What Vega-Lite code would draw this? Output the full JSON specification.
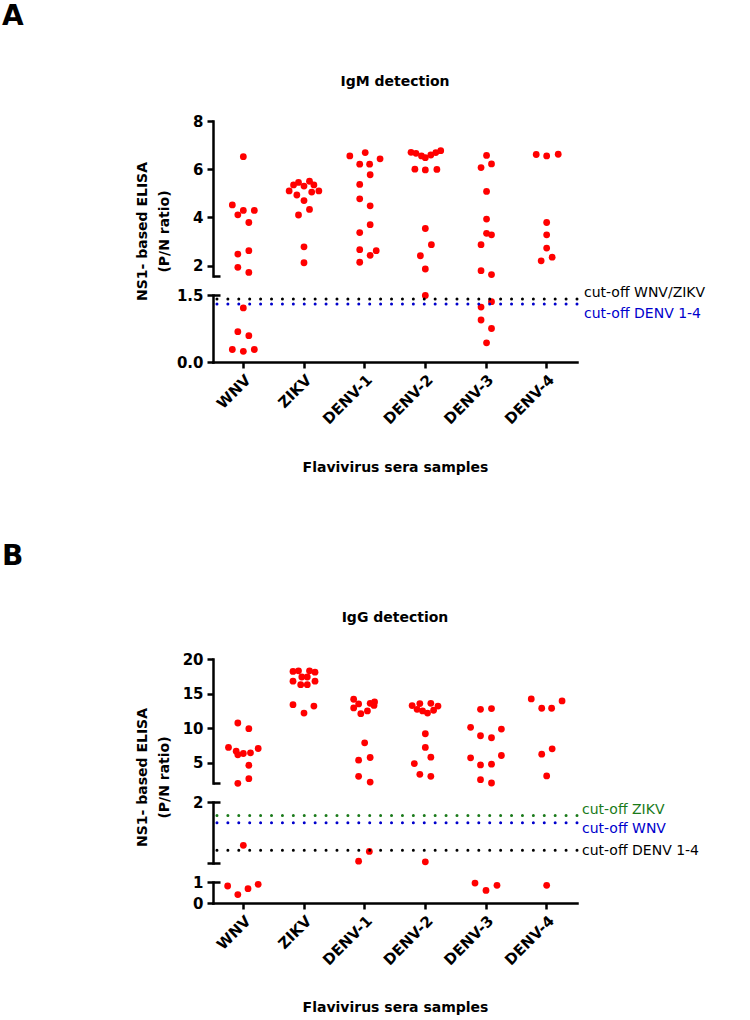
{
  "$schema": "https://vega.github.io/schema/vega-lite/v6.json",
  "padding": {"left": 2, "top": 3, "right": 0, "bottom": 0},
  "autosize": {"type": "pad"},
  "spacing": 68,
  "datasets": {
    "pts": [
      {"panel":"IgM","seg":"top","virus":"WNV","value":6.52,"dx":0},
      {"panel":"IgM","seg":"top","virus":"WNV","value":4.52,"dx":-2},
      {"panel":"IgM","seg":"top","virus":"WNV","value":4.11,"dx":-1},
      {"panel":"IgM","seg":"top","virus":"WNV","value":4.29,"dx":0},
      {"panel":"IgM","seg":"top","virus":"WNV","value":4.29,"dx":2},
      {"panel":"IgM","seg":"top","virus":"WNV","value":3.79,"dx":1},
      {"panel":"IgM","seg":"top","virus":"WNV","value":2.48,"dx":-1},
      {"panel":"IgM","seg":"top","virus":"WNV","value":2.62,"dx":1},
      {"panel":"IgM","seg":"top","virus":"WNV","value":1.93,"dx":-1},
      {"panel":"IgM","seg":"top","virus":"WNV","value":1.72,"dx":1},
      {"panel":"IgM","seg":"bot","virus":"WNV","value":1.21,"dx":0},
      {"panel":"IgM","seg":"bot","virus":"WNV","value":0.68,"dx":-1},
      {"panel":"IgM","seg":"bot","virus":"WNV","value":0.59,"dx":1},
      {"panel":"IgM","seg":"bot","virus":"WNV","value":0.28,"dx":-2},
      {"panel":"IgM","seg":"bot","virus":"WNV","value":0.24,"dx":0},
      {"panel":"IgM","seg":"bot","virus":"WNV","value":0.28,"dx":2},
      {"panel":"IgM","seg":"top","virus":"ZIKV","value":5.10,"dx":-2.7},
      {"panel":"IgM","seg":"top","virus":"ZIKV","value":5.35,"dx":-1.9},
      {"panel":"IgM","seg":"top","virus":"ZIKV","value":5.45,"dx":-1.0},
      {"panel":"IgM","seg":"top","virus":"ZIKV","value":5.30,"dx":0},
      {"panel":"IgM","seg":"top","virus":"ZIKV","value":5.50,"dx":1.0},
      {"panel":"IgM","seg":"top","virus":"ZIKV","value":5.35,"dx":1.8},
      {"panel":"IgM","seg":"top","virus":"ZIKV","value":5.05,"dx":1.4},
      {"panel":"IgM","seg":"top","virus":"ZIKV","value":5.10,"dx":2.7},
      {"panel":"IgM","seg":"top","virus":"ZIKV","value":4.93,"dx":-1.3},
      {"panel":"IgM","seg":"top","virus":"ZIKV","value":4.70,"dx":0},
      {"panel":"IgM","seg":"top","virus":"ZIKV","value":4.33,"dx":1.0},
      {"panel":"IgM","seg":"top","virus":"ZIKV","value":4.10,"dx":-1.0},
      {"panel":"IgM","seg":"top","virus":"ZIKV","value":2.78,"dx":0},
      {"panel":"IgM","seg":"top","virus":"ZIKV","value":2.12,"dx":0},
      {"panel":"IgM","seg":"top","virus":"DENV-1","value":6.55,"dx":-2.7},
      {"panel":"IgM","seg":"top","virus":"DENV-1","value":6.69,"dx":0.1},
      {"panel":"IgM","seg":"top","virus":"DENV-1","value":6.43,"dx":2.8},
      {"panel":"IgM","seg":"top","virus":"DENV-1","value":6.21,"dx":-0.9},
      {"panel":"IgM","seg":"top","virus":"DENV-1","value":6.21,"dx":0.9},
      {"panel":"IgM","seg":"top","virus":"DENV-1","value":5.77,"dx":1.0},
      {"panel":"IgM","seg":"top","virus":"DENV-1","value":5.37,"dx":-0.9},
      {"panel":"IgM","seg":"top","virus":"DENV-1","value":4.77,"dx":-0.9},
      {"panel":"IgM","seg":"top","virus":"DENV-1","value":4.48,"dx":1.0},
      {"panel":"IgM","seg":"top","virus":"DENV-1","value":3.70,"dx":1.0},
      {"panel":"IgM","seg":"top","virus":"DENV-1","value":3.37,"dx":-0.9},
      {"panel":"IgM","seg":"top","virus":"DENV-1","value":2.66,"dx":-0.9},
      {"panel":"IgM","seg":"top","virus":"DENV-1","value":2.43,"dx":1.0},
      {"panel":"IgM","seg":"top","virus":"DENV-1","value":2.62,"dx":2.1},
      {"panel":"IgM","seg":"top","virus":"DENV-1","value":2.14,"dx":-0.9},
      {"panel":"IgM","seg":"top","virus":"DENV-2","value":6.70,"dx":-2.6},
      {"panel":"IgM","seg":"top","virus":"DENV-2","value":6.66,"dx":-1.7},
      {"panel":"IgM","seg":"top","virus":"DENV-2","value":6.55,"dx":-0.7},
      {"panel":"IgM","seg":"top","virus":"DENV-2","value":6.48,"dx":0},
      {"panel":"IgM","seg":"top","virus":"DENV-2","value":6.59,"dx":1.0},
      {"panel":"IgM","seg":"top","virus":"DENV-2","value":6.69,"dx":1.9},
      {"panel":"IgM","seg":"top","virus":"DENV-2","value":6.77,"dx":2.8},
      {"panel":"IgM","seg":"top","virus":"DENV-2","value":6.00,"dx":-1.9},
      {"panel":"IgM","seg":"top","virus":"DENV-2","value":5.97,"dx":0},
      {"panel":"IgM","seg":"top","virus":"DENV-2","value":5.99,"dx":2.1},
      {"panel":"IgM","seg":"top","virus":"DENV-2","value":3.54,"dx":0},
      {"panel":"IgM","seg":"top","virus":"DENV-2","value":2.87,"dx":1.1},
      {"panel":"IgM","seg":"top","virus":"DENV-2","value":2.41,"dx":-0.9},
      {"panel":"IgM","seg":"top","virus":"DENV-2","value":1.86,"dx":0},
      {"panel":"IgM","seg":"bot","virus":"DENV-2","value":1.49,"dx":0},
      {"panel":"IgM","seg":"top","virus":"DENV-3","value":6.57,"dx":0.1},
      {"panel":"IgM","seg":"top","virus":"DENV-3","value":6.07,"dx":-0.9},
      {"panel":"IgM","seg":"top","virus":"DENV-3","value":6.22,"dx":1.0},
      {"panel":"IgM","seg":"top","virus":"DENV-3","value":5.08,"dx":0.1},
      {"panel":"IgM","seg":"top","virus":"DENV-3","value":3.93,"dx":0.1},
      {"panel":"IgM","seg":"top","virus":"DENV-3","value":3.34,"dx":0.1},
      {"panel":"IgM","seg":"top","virus":"DENV-3","value":3.28,"dx":1.0},
      {"panel":"IgM","seg":"top","virus":"DENV-3","value":2.87,"dx":-0.9},
      {"panel":"IgM","seg":"top","virus":"DENV-3","value":1.79,"dx":-0.9},
      {"panel":"IgM","seg":"top","virus":"DENV-3","value":1.63,"dx":1.0},
      {"panel":"IgM","seg":"bot","virus":"DENV-3","value":1.23,"dx":-0.9},
      {"panel":"IgM","seg":"bot","virus":"DENV-3","value":1.35,"dx":1.0},
      {"panel":"IgM","seg":"bot","virus":"DENV-3","value":0.94,"dx":-0.9},
      {"panel":"IgM","seg":"bot","virus":"DENV-3","value":0.75,"dx":1.0},
      {"panel":"IgM","seg":"bot","virus":"DENV-3","value":0.43,"dx":0.1},
      {"panel":"IgM","seg":"top","virus":"DENV-4","value":6.61,"dx":-1.9},
      {"panel":"IgM","seg":"top","virus":"DENV-4","value":6.55,"dx":0},
      {"panel":"IgM","seg":"top","virus":"DENV-4","value":6.62,"dx":2.1},
      {"panel":"IgM","seg":"top","virus":"DENV-4","value":3.79,"dx":0},
      {"panel":"IgM","seg":"top","virus":"DENV-4","value":3.28,"dx":0},
      {"panel":"IgM","seg":"top","virus":"DENV-4","value":2.73,"dx":0},
      {"panel":"IgM","seg":"top","virus":"DENV-4","value":2.20,"dx":-1.0},
      {"panel":"IgM","seg":"top","virus":"DENV-4","value":2.35,"dx":1.0},

      {"panel":"IgG","seg":"top","virus":"WNV","value":10.76,"dx":-1.0},
      {"panel":"IgG","seg":"top","virus":"WNV","value":9.94,"dx":1.0},
      {"panel":"IgG","seg":"top","virus":"WNV","value":7.23,"dx":-2.7},
      {"panel":"IgG","seg":"top","virus":"WNV","value":6.70,"dx":-1.3},
      {"panel":"IgG","seg":"top","virus":"WNV","value":6.16,"dx":-1.0},
      {"panel":"IgG","seg":"top","virus":"WNV","value":6.36,"dx":0},
      {"panel":"IgG","seg":"top","virus":"WNV","value":6.45,"dx":1.3},
      {"panel":"IgG","seg":"top","virus":"WNV","value":7.08,"dx":2.7},
      {"panel":"IgG","seg":"top","virus":"WNV","value":4.66,"dx":1.0},
      {"panel":"IgG","seg":"top","virus":"WNV","value":2.73,"dx":1.0},
      {"panel":"IgG","seg":"top","virus":"WNV","value":2.05,"dx":-1.0},
      {"panel":"IgG","seg":"mid","virus":"WNV","value":1.29,"dx":0},
      {"panel":"IgG","seg":"bot","virus":"WNV","value":0.81,"dx":-2.85},
      {"panel":"IgG","seg":"bot","virus":"WNV","value":0.40,"dx":-1.0},
      {"panel":"IgG","seg":"bot","virus":"WNV","value":0.68,"dx":0.85},
      {"panel":"IgG","seg":"bot","virus":"WNV","value":0.89,"dx":2.7},
      {"panel":"IgG","seg":"top","virus":"ZIKV","value":18.2,"dx":-2.0},
      {"panel":"IgG","seg":"top","virus":"ZIKV","value":18.3,"dx":-1.0},
      {"panel":"IgG","seg":"top","virus":"ZIKV","value":18.3,"dx":1.0},
      {"panel":"IgG","seg":"top","virus":"ZIKV","value":18.1,"dx":2.0},
      {"panel":"IgG","seg":"top","virus":"ZIKV","value":17.4,"dx":-0.4},
      {"panel":"IgG","seg":"top","virus":"ZIKV","value":17.4,"dx":0.6},
      {"panel":"IgG","seg":"top","virus":"ZIKV","value":16.8,"dx":-2.0},
      {"panel":"IgG","seg":"top","virus":"ZIKV","value":16.8,"dx":2.0},
      {"panel":"IgG","seg":"top","virus":"ZIKV","value":16.3,"dx":-0.6},
      {"panel":"IgG","seg":"top","virus":"ZIKV","value":16.3,"dx":0.6},
      {"panel":"IgG","seg":"top","virus":"ZIKV","value":13.4,"dx":-2.0},
      {"panel":"IgG","seg":"top","virus":"ZIKV","value":13.2,"dx":1.8},
      {"panel":"IgG","seg":"top","virus":"ZIKV","value":12.2,"dx":0},
      {"panel":"IgG","seg":"top","virus":"DENV-1","value":14.19,"dx":-2.0},
      {"panel":"IgG","seg":"top","virus":"DENV-1","value":13.52,"dx":-1.1},
      {"panel":"IgG","seg":"top","virus":"DENV-1","value":12.94,"dx":-2.0},
      {"panel":"IgG","seg":"top","virus":"DENV-1","value":12.11,"dx":-0.7},
      {"panel":"IgG","seg":"top","virus":"DENV-1","value":12.50,"dx":0.5},
      {"panel":"IgG","seg":"top","virus":"DENV-1","value":13.6,"dx":1.0},
      {"panel":"IgG","seg":"top","virus":"DENV-1","value":13.8,"dx":1.8},
      {"panel":"IgG","seg":"top","virus":"DENV-1","value":13.3,"dx":1.7},
      {"panel":"IgG","seg":"top","virus":"DENV-1","value":7.90,"dx":0},
      {"panel":"IgG","seg":"top","virus":"DENV-1","value":5.39,"dx":-1.1},
      {"panel":"IgG","seg":"top","virus":"DENV-1","value":5.78,"dx":1.0},
      {"panel":"IgG","seg":"top","virus":"DENV-1","value":3.07,"dx":-1.1},
      {"panel":"IgG","seg":"top","virus":"DENV-1","value":2.24,"dx":1.0},
      {"panel":"IgG","seg":"mid","virus":"DENV-1","value":1.03,"dx":-1.1},
      {"panel":"IgG","seg":"mid","virus":"DENV-1","value":1.19,"dx":0.85},
      {"panel":"IgG","seg":"top","virus":"DENV-2","value":13.28,"dx":-2.4},
      {"panel":"IgG","seg":"top","virus":"DENV-2","value":13.56,"dx":-1.0},
      {"panel":"IgG","seg":"top","virus":"DENV-2","value":12.74,"dx":-1.5},
      {"panel":"IgG","seg":"top","virus":"DENV-2","value":12.5,"dx":-0.5},
      {"panel":"IgG","seg":"top","virus":"DENV-2","value":12.2,"dx":0.4},
      {"panel":"IgG","seg":"top","virus":"DENV-2","value":13.6,"dx":1.0},
      {"panel":"IgG","seg":"top","virus":"DENV-2","value":12.6,"dx":1.5},
      {"panel":"IgG","seg":"top","virus":"DENV-2","value":13.2,"dx":2.3},
      {"panel":"IgG","seg":"top","virus":"DENV-2","value":9.21,"dx":0},
      {"panel":"IgG","seg":"top","virus":"DENV-2","value":7.23,"dx":0},
      {"panel":"IgG","seg":"top","virus":"DENV-2","value":5.83,"dx":1.0},
      {"panel":"IgG","seg":"top","virus":"DENV-2","value":4.9,"dx":-2.0},
      {"panel":"IgG","seg":"top","virus":"DENV-2","value":3.36,"dx":-1.0},
      {"panel":"IgG","seg":"top","virus":"DENV-2","value":3.07,"dx":1.0},
      {"panel":"IgG","seg":"mid","virus":"DENV-2","value":1.02,"dx":0},
      {"panel":"IgG","seg":"top","virus":"DENV-3","value":12.74,"dx":-1.0},
      {"panel":"IgG","seg":"top","virus":"DENV-3","value":12.84,"dx":1.0},
      {"panel":"IgG","seg":"top","virus":"DENV-3","value":10.13,"dx":-2.8},
      {"panel":"IgG","seg":"top","virus":"DENV-3","value":9.89,"dx":2.8},
      {"panel":"IgG","seg":"top","virus":"DENV-3","value":8.92,"dx":-1.0},
      {"panel":"IgG","seg":"top","virus":"DENV-3","value":8.63,"dx":1.0},
      {"panel":"IgG","seg":"top","virus":"DENV-3","value":5.73,"dx":-2.8},
      {"panel":"IgG","seg":"top","virus":"DENV-3","value":6.07,"dx":2.8},
      {"panel":"IgG","seg":"top","virus":"DENV-3","value":4.71,"dx":-1.0},
      {"panel":"IgG","seg":"top","virus":"DENV-3","value":4.81,"dx":1.0},
      {"panel":"IgG","seg":"top","virus":"DENV-3","value":2.58,"dx":-1.0},
      {"panel":"IgG","seg":"top","virus":"DENV-3","value":2.10,"dx":1.0},
      {"panel":"IgG","seg":"bot","virus":"DENV-3","value":0.95,"dx":-2.0},
      {"panel":"IgG","seg":"bot","virus":"DENV-3","value":0.60,"dx":0},
      {"panel":"IgG","seg":"bot","virus":"DENV-3","value":0.84,"dx":2.0},
      {"panel":"IgG","seg":"top","virus":"DENV-4","value":14.24,"dx":-2.8},
      {"panel":"IgG","seg":"top","virus":"DENV-4","value":12.89,"dx":-0.9},
      {"panel":"IgG","seg":"top","virus":"DENV-4","value":12.89,"dx":0.9},
      {"panel":"IgG","seg":"top","virus":"DENV-4","value":13.95,"dx":2.8},
      {"panel":"IgG","seg":"top","virus":"DENV-4","value":6.26,"dx":-0.9},
      {"panel":"IgG","seg":"top","virus":"DENV-4","value":7.03,"dx":1.0},
      {"panel":"IgG","seg":"top","virus":"DENV-4","value":3.12,"dx":0},
      {"panel":"IgG","seg":"bot","virus":"DENV-4","value":0.84,"dx":0}
    ],
    "cuts": [
      {"panel":"IgM","name":"WNV/ZIKV","label":"cut-off WNV/ZIKV","value":1.41},
      {"panel":"IgM","name":"DENV","label":"cut-off DENV 1-4","value":1.30},
      {"panel":"IgG","name":"ZIKV","label":"cut-off ZIKV","value":1.78},
      {"panel":"IgG","name":"WNV","label":"cut-off WNV","value":1.66},
      {"panel":"IgG","name":"DENV","label":"cut-off DENV 1-4","value":1.21}
    ]
  },
  "vconcat": [
    {
      "title": {"text": "A", "anchor": "start", "frame": "bounds", "dx": -133, "offset": 44, "fontSize": 28, "font": "DejaVu Sans", "fontWeight": "bold", "color": "#000"},
      "spacing": 19,
      "bounds": "flush",
      "vconcat": [
        {
          "width": 364, "height": 155,
          "title": {"text": "IgM detection", "offset": 25, "fontSize": 14, "font": "DejaVu Sans", "fontWeight": "bold", "anchor": "middle", "frame": "group", "color": "#000"},
          "layer": [
            {
              "data": {"name": "pts"},
              "transform": [{"filter": "datum.panel == 'IgM' && datum.seg == 'top'"}],
              "mark": {"type": "circle", "size": 46, "color": "#ff0000", "opacity": 1},
              "encoding": {
                "x": {"field": "virus", "type": "nominal", "scale": {"domain": ["WNV","ZIKV","DENV-1","DENV-2","DENV-3","DENV-4"], "paddingInner": 0, "paddingOuter": 0}, "axis": null},
                "xOffset": {"field": "dx", "type": "quantitative", "scale": {"domain": [-5.515, 5.515]}},
                "y": {"field": "value", "type": "quantitative", "scale": {"domain": [1.57, 8], "nice": false, "zero": false},
                      "axis": {"values": [2,4,6,8], "tickSize": 6, "labelPadding": 4, "title": ["NS1- based ELISA", "(P/N ratio)"], "titleX": -64, "titleY": 110, "titleAngle": -90, "titleAlign": "center", "titleBaseline": "bottom", "titleLineHeight": 22}}
              }
            },
            {
              "data": {"name": "pts"},
              "transform": [{"filter": "datum.panel == 'IgM' && datum.seg == 'top'"}],
              "mark": {"type": "point", "opacity": 0},
              "encoding": {
                "y": {"field": "value", "type": "quantitative", "axis": {"orient": "right", "offset": -364, "values": [1.57], "labels": false, "domain": false, "tickSize": 7, "title": null}}
              }
            }
          ],
          "resolve": {"axis": {"y": "independent"}}
        },
        {
          "width": 364, "height": 67,
          "layer": [
            {
              "data": {"name": "pts"},
              "transform": [{"filter": "datum.panel == 'IgM' && datum.seg == 'bot'"}],
              "mark": {"type": "circle", "size": 46, "color": "#ff0000", "opacity": 1},
              "encoding": {
                "x": {"field": "virus", "type": "nominal", "scale": {"domain": ["WNV","ZIKV","DENV-1","DENV-2","DENV-3","DENV-4"], "paddingInner": 0, "paddingOuter": 0},
                      "axis": {"title": "Flavivirus sera samples", "labelAngle": -45, "labelFontSize": 15, "tickSize": 6, "labelPadding": 4, "titlePadding": 34}},
                "xOffset": {"field": "dx", "type": "quantitative", "scale": {"domain": [-5.515, 5.515]}},
                "y": {"field": "value", "type": "quantitative", "scale": {"domain": [0, 1.5], "nice": false, "zero": false},
                      "axis": {"values": [0, 1.5], "format": ".1f", "tickSize": 6, "labelPadding": 4, "title": null}}
              }
            },
            {
              "data": {"name": "pts"},
              "transform": [{"filter": "datum.panel == 'IgM' && datum.seg == 'bot'"}],
              "mark": {"type": "point", "opacity": 0},
              "encoding": {
                "y": {"field": "value", "type": "quantitative", "axis": {"orient": "right", "offset": -364, "values": [1.5], "labels": false, "domain": false, "tickSize": 7, "title": null}}
              }
            },
            {
              "data": {"name": "cuts"},
              "transform": [{"filter": "datum.panel == 'IgM' && datum.name == 'WNV/ZIKV'"}],
              "mark": {"type": "rule", "color": "#000000", "strokeWidth": 3, "strokeDash": [0.01, 10.9], "strokeCap": "round"},
              "encoding": {"y": {"field": "value", "type": "quantitative", "axis": null}}
            },
            {
              "data": {"name": "cuts"},
              "transform": [{"filter": "datum.panel == 'IgM' && datum.name == 'DENV'"}],
              "mark": {"type": "rule", "color": "#0000cc", "strokeWidth": 3, "strokeDash": [0.01, 10.9], "strokeCap": "round"},
              "encoding": {"y": {"field": "value", "type": "quantitative", "axis": null}}
            },
            {
              "data": {"name": "cuts"},
              "transform": [{"filter": "datum.panel == 'IgM' && datum.name == 'WNV/ZIKV'"}],
              "mark": {"type": "text", "align": "left", "baseline": "middle", "dx": 189, "dy": -6, "color": "#000000", "font": "DejaVu Sans", "fontSize": 14},
              "encoding": {"y": {"field": "value", "type": "quantitative", "axis": null}, "text": {"field": "label"}}
            },
            {
              "data": {"name": "cuts"},
              "transform": [{"filter": "datum.panel == 'IgM' && datum.name == 'DENV'"}],
              "mark": {"type": "text", "align": "left", "baseline": "middle", "dx": 189, "dy": 10, "color": "#0000cc", "font": "DejaVu Sans", "fontSize": 14},
              "encoding": {"y": {"field": "value", "type": "quantitative", "axis": null}, "text": {"field": "label"}}
            }
          ],
          "resolve": {"axis": {"y": "independent"}}
        }
      ]
    },
    {
      "title": {"text": "B", "anchor": "start", "frame": "bounds", "dx": -133, "offset": 40, "fontSize": 28, "font": "DejaVu Sans", "fontWeight": "bold", "color": "#000"},
      "spacing": 19,
      "bounds": "flush",
      "vconcat": [
        {
          "width": 364, "height": 124,
          "title": {"text": "IgG detection", "offset": 27, "fontSize": 14, "font": "DejaVu Sans", "fontWeight": "bold", "anchor": "middle", "frame": "group", "color": "#000"},
          "layer": [
            {
              "data": {"name": "pts"},
              "transform": [{"filter": "datum.panel == 'IgG' && datum.seg == 'top'"}],
              "mark": {"type": "circle", "size": 46, "color": "#ff0000", "opacity": 1},
              "encoding": {
                "x": {"field": "virus", "type": "nominal", "scale": {"domain": ["WNV","ZIKV","DENV-1","DENV-2","DENV-3","DENV-4"], "paddingInner": 0, "paddingOuter": 0}, "axis": null},
                "xOffset": {"field": "dx", "type": "quantitative", "scale": {"domain": [-5.515, 5.515]}},
                "y": {"field": "value", "type": "quantitative", "scale": {"domain": [2.1, 20], "nice": false, "zero": false},
                      "axis": {"values": [5,10,15,20], "tickSize": 6, "labelPadding": 4, "title": ["NS1- based ELISA", "(P/N ratio)"], "titleX": -64, "titleY": 118, "titleAngle": -90, "titleAlign": "center", "titleBaseline": "bottom", "titleLineHeight": 22}}
              }
            },
            {
              "data": {"name": "pts"},
              "transform": [{"filter": "datum.panel == 'IgG' && datum.seg == 'top'"}],
              "mark": {"type": "point", "opacity": 0},
              "encoding": {
                "y": {"field": "value", "type": "quantitative", "axis": {"orient": "right", "offset": -364, "values": [2.1], "labels": false, "domain": false, "tickSize": 7, "title": null}}
              }
            }
          ],
          "resolve": {"axis": {"y": "independent"}}
        },
        {
          "width": 364, "height": 61,
          "layer": [
            {
              "data": {"name": "pts"},
              "transform": [{"filter": "datum.panel == 'IgG' && datum.seg == 'mid'"}],
              "mark": {"type": "circle", "size": 46, "color": "#ff0000", "opacity": 1},
              "encoding": {
                "x": {"field": "virus", "type": "nominal", "scale": {"domain": ["WNV","ZIKV","DENV-1","DENV-2","DENV-3","DENV-4"], "paddingInner": 0, "paddingOuter": 0}, "axis": null},
                "xOffset": {"field": "dx", "type": "quantitative", "scale": {"domain": [-5.515, 5.515]}},
                "y": {"field": "value", "type": "quantitative", "scale": {"domain": [1, 2], "nice": false, "zero": false},
                      "axis": {"values": [1, 2], "labelExpr": "datum.value == 2 ? '2' : ''", "tickSize": 6, "labelPadding": 4, "title": null}}
              }
            },
            {
              "data": {"name": "pts"},
              "transform": [{"filter": "datum.panel == 'IgG' && datum.seg == 'mid'"}],
              "mark": {"type": "point", "opacity": 0},
              "encoding": {
                "y": {"field": "value", "type": "quantitative", "axis": {"orient": "right", "offset": -364, "values": [1, 2], "labels": false, "domain": false, "tickSize": 7, "title": null}}
              }
            },
            {
              "data": {"name": "cuts"},
              "transform": [{"filter": "datum.panel == 'IgG' && datum.name == 'ZIKV'"}],
              "mark": {"type": "rule", "color": "#1a7a1a", "strokeWidth": 3, "strokeDash": [0.01, 10.9], "strokeCap": "round"},
              "encoding": {"y": {"field": "value", "type": "quantitative", "axis": null}}
            },
            {
              "data": {"name": "cuts"},
              "transform": [{"filter": "datum.panel == 'IgG' && datum.name == 'WNV'"}],
              "mark": {"type": "rule", "color": "#0000cc", "strokeWidth": 3, "strokeDash": [0.01, 10.9], "strokeCap": "round"},
              "encoding": {"y": {"field": "value", "type": "quantitative", "axis": null}}
            },
            {
              "data": {"name": "cuts"},
              "transform": [{"filter": "datum.panel == 'IgG' && datum.name == 'DENV'"}],
              "mark": {"type": "rule", "color": "#000000", "strokeWidth": 3, "strokeDash": [0.01, 10.9], "strokeCap": "round"},
              "encoding": {"y": {"field": "value", "type": "quantitative", "axis": null}}
            },
            {
              "data": {"name": "cuts"},
              "transform": [{"filter": "datum.panel == 'IgG' && datum.name == 'ZIKV'"}],
              "mark": {"type": "text", "align": "left", "baseline": "middle", "dx": 187, "dy": -5, "color": "#1a7a1a", "font": "DejaVu Sans", "fontSize": 14},
              "encoding": {"y": {"field": "value", "type": "quantitative", "axis": null}, "text": {"field": "label"}}
            },
            {
              "data": {"name": "cuts"},
              "transform": [{"filter": "datum.panel == 'IgG' && datum.name == 'WNV'"}],
              "mark": {"type": "text", "align": "left", "baseline": "middle", "dx": 187, "dy": 6, "color": "#0000cc", "font": "DejaVu Sans", "fontSize": 14},
              "encoding": {"y": {"field": "value", "type": "quantitative", "axis": null}, "text": {"field": "label"}}
            },
            {
              "data": {"name": "cuts"},
              "transform": [{"filter": "datum.panel == 'IgG' && datum.name == 'DENV'"}],
              "mark": {"type": "text", "align": "left", "baseline": "middle", "dx": 187, "dy": 1, "color": "#000000", "font": "DejaVu Sans", "fontSize": 14},
              "encoding": {"y": {"field": "value", "type": "quantitative", "axis": null}, "text": {"field": "label"}}
            }
          ],
          "resolve": {"axis": {"y": "independent"}}
        },
        {
          "width": 364, "height": 21,
          "layer": [
            {
              "data": {"name": "pts"},
              "transform": [{"filter": "datum.panel == 'IgG' && datum.seg == 'bot'"}],
              "mark": {"type": "circle", "size": 46, "color": "#ff0000", "opacity": 1},
              "encoding": {
                "x": {"field": "virus", "type": "nominal", "scale": {"domain": ["WNV","ZIKV","DENV-1","DENV-2","DENV-3","DENV-4"], "paddingInner": 0, "paddingOuter": 0},
                      "axis": {"title": "Flavivirus sera samples", "labelAngle": -45, "labelFontSize": 15, "tickSize": 6, "labelPadding": 4, "titlePadding": 33}},
                "xOffset": {"field": "dx", "type": "quantitative", "scale": {"domain": [-5.515, 5.515]}},
                "y": {"field": "value", "type": "quantitative", "scale": {"domain": [0, 1], "nice": false, "zero": false},
                      "axis": {"values": [0, 1], "format": "d", "tickSize": 6, "labelPadding": 4, "title": null}}
              }
            },
            {
              "data": {"name": "pts"},
              "transform": [{"filter": "datum.panel == 'IgG' && datum.seg == 'bot'"}],
              "mark": {"type": "point", "opacity": 0},
              "encoding": {
                "y": {"field": "value", "type": "quantitative", "axis": {"orient": "right", "offset": -364, "values": [1], "labels": false, "domain": false, "tickSize": 7, "title": null}}
              }
            }
          ],
          "resolve": {"axis": {"y": "independent"}}
        }
      ]
    }
  ],
  "config": {
    "view": {"stroke": null},
    "axis": {
      "grid": false,
      "domainColor": "#000000", "domainWidth": 2.5, "domainCap": "square",
      "tickColor": "#000000", "tickWidth": 2.5,
      "labelColor": "#000000", "labelFont": "DejaVu Sans", "labelFontWeight": "bold", "labelFontSize": 15,
      "titleColor": "#000000", "titleFont": "DejaVu Sans", "titleFontWeight": "bold", "titleFontSize": 14
    }
  }
}
